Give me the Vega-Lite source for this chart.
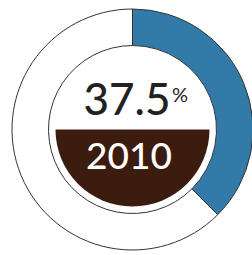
{
  "$schema": "https://vega.github.io/schema/vega-lite/v6.json",
  "autosize": "none",
  "width": 241,
  "height": 251,
  "padding": {"left": 12, "top": 4, "right": 0, "bottom": 0},
  "background": "#ffffff",
  "config": {"view": {"stroke": null}},
  "layer": [
    {
      "data": {"values": [
        {"category": "share", "value": 37.5},
        {"category": "rest", "value": 62.5}
      ]},
      "mark": {"type": "arc", "radius": 120.5, "radius2": 84, "stroke": "#333333", "strokeWidth": 1},
      "encoding": {
        "theta": {"field": "value", "type": "quantitative", "stack": true, "scale": {"domain": [0, 100]}},
        "order": {"field": "value", "type": "quantitative", "sort": "ascending"},
        "color": {"field": "category", "type": "nominal", "scale": {"domain": ["share", "rest"], "range": ["#327ba8", "#ffffff"]}, "legend": null}
      }
    },
    {
      "data": {"values": [{"start": 25, "end": 75}]},
      "mark": {"type": "arc", "radius": 77, "fill": "#3b1c0e", "strokeWidth": 0},
      "encoding": {
        "theta": {"field": "start", "type": "quantitative", "scale": {"domain": [0, 100]}},
        "theta2": {"field": "end"}
      }
    },
    {
      "data": {"values": [{"year": "2010", "share": 37.5}]},
      "layer": [
        {
          "mark": {"type": "text", "font": "Lato", "fontSize": 44, "fontWeight": 500, "color": "#222222", "align": "right", "baseline": "alphabetic", "dx": 38, "dy": -14.5},
          "encoding": {"text": {"field": "share", "type": "quantitative", "format": ".1f"}}
        },
        {
          "mark": {"type": "text", "font": "Lato", "fontSize": 20, "color": "#222222", "align": "left", "baseline": "alphabetic", "dx": 39.5, "dy": -27.5, "text": "%"},
          "encoding": {}
        },
        {
          "mark": {"type": "text", "font": "Lato", "fontSize": 37, "fontWeight": 500, "color": "#ffffff", "align": "center", "baseline": "alphabetic", "dx": -3.5, "dy": 39.5},
          "encoding": {"text": {"field": "year", "type": "nominal"}}
        }
      ]
    }
  ]
}
